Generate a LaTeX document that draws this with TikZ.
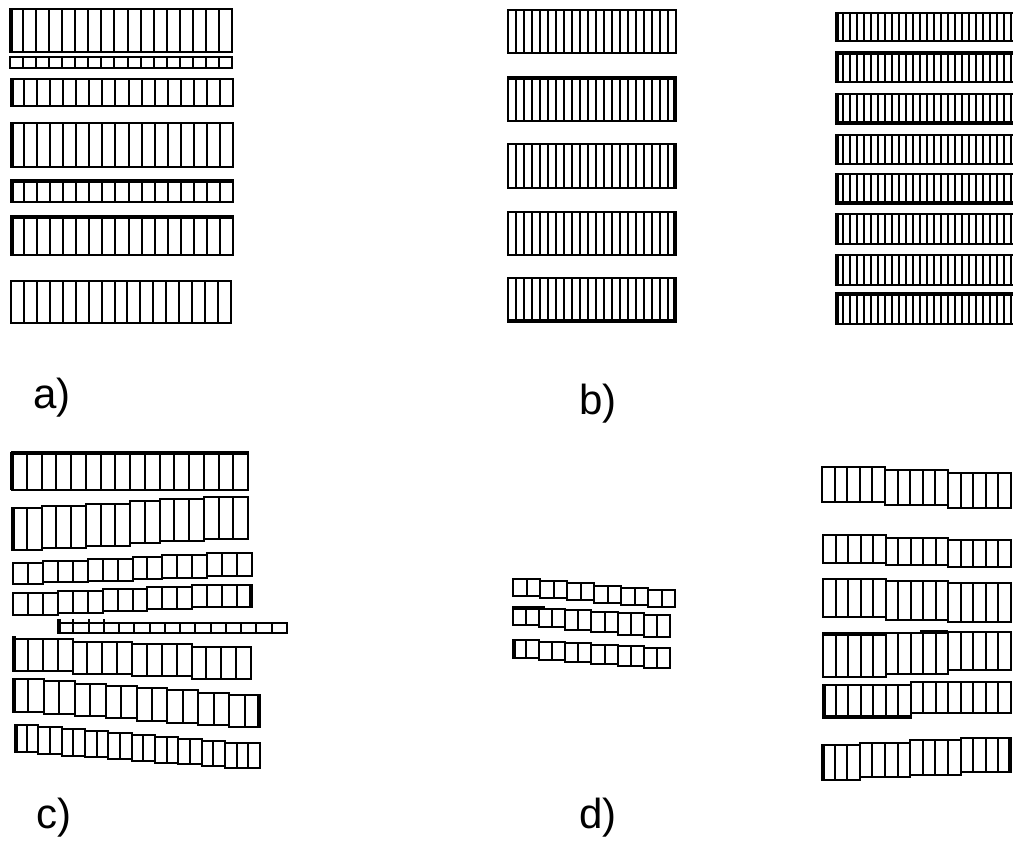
\documentclass[tikz,border=0pt]{standalone}
\usepackage{graphicx}
\usepackage{fontspec}
\setmainfont{Liberation Sans}
\tikzset{
  ln/.style={line width=2pt, line join=miter},
  thk/.style={line width=3.5pt},
  lbl/.style={font=\fontsize{42}{48}\selectfont, inner sep=0pt}
}
% \stair{x0}{x1}{cells}{segments}{ytop-left}{ybot-left}{ytop-right}{ybot-right}
\newcommand{\stair}[8]{%
  \pgfmathsetmacro\stCW{(#2-#1)/#3}%
  \pgfmathtruncatemacro\stNS{#4-1}%
  \foreach \stI in {0,...,\stNS}{%
    \pgfmathsetmacro\stT{\stI/max(#4-1,1)}%
    \pgfmathsetmacro\stXa{round(#1+floor(\stI*#3/#4+0.001)*\stCW)}%
    \pgfmathsetmacro\stXb{round(#1+floor((\stI+1)*#3/#4+0.001)*\stCW)}%
    \pgfmathsetmacro\stYa{round(#5+(#7-#5)*\stT)}%
    \pgfmathsetmacro\stYb{round(#6+(#8-#6)*\stT)}%
    \draw[ln] (\stXa,\stYa) rectangle (\stXb,\stYb);
  }%
  \pgfmathtruncatemacro\stND{#3-1}%
  \foreach \stJ in {1,...,\stND}{%
    \pgfmathsetmacro\stX{round(#1+\stJ*\stCW)}%
    \pgfmathtruncatemacro\stK{min(floor(((\stJ+1)*#4-1)/#3+0.001),#4-1)}%
    \pgfmathsetmacro\stT{\stK/max(#4-1,1)}%
    \pgfmathsetmacro\stYa{round(#5+(#7-#5)*\stT)}%
    \pgfmathsetmacro\stYb{round(#6+(#8-#6)*\stT)}%
    \draw[ln] (\stX,\stYa) -- (\stX,\stYb);
  }%
}
\begin{document}
\begin{tikzpicture}[x=1pt,y=-1pt]
\useasboundingbox (0,0) rectangle (1013,844);
\clip (0,0) rectangle (1013,844);
% ---------- a) ----------
\stair{10}{232}{17}{1}{9}{52}{9}{52}
\stair{10}{232}{17}{1}{57}{68}{57}{68}
\stair{11}{233}{17}{1}{79}{106}{79}{106}
\stair{11}{233}{17}{1}{123}{167}{123}{167}
\stair{11}{233}{17}{1}{180}{202}{180}{202}
\stair{11}{233}{17}{1}{216}{255}{216}{255}
\stair{11}{231}{17}{1}{281}{323}{281}{323}
\draw[thk] (11,9)--(11,52);
\draw[thk] (12,79)--(12,106);
\draw[thk] (12,123)--(12,167);
\draw[thk] (12,180)--(12,202) (11,181)--(233,181);
\draw[thk] (12,216)--(12,255) (11,217)--(233,217);
% ---------- b) middle ----------
\stair{508}{676}{21}{1}{10}{53}{10}{53}
\stair{508}{676}{21}{1}{77}{121}{77}{121}
\stair{508}{676}{21}{1}{144}{188}{144}{188}
\stair{508}{676}{21}{1}{212}{255}{212}{255}
\stair{508}{676}{21}{1}{278}{322}{278}{322}
\draw[thk] (675,77)--(675,121) (508,78)--(676,78);
\draw[thk] (675,144)--(675,188);
\draw[thk] (675,212)--(675,255);
\draw[thk] (675,278)--(675,322) (508,321)--(676,321);
% ---------- b) right ----------
\stair{836}{1018}{26}{1}{13}{41}{13}{41}
\stair{836}{1018}{26}{1}{52}{82}{52}{82}
\stair{836}{1018}{26}{1}{94}{124}{94}{124}
\stair{836}{1018}{26}{1}{135}{164}{135}{164}
\stair{836}{1018}{26}{1}{174}{204}{174}{204}
\stair{836}{1018}{26}{1}{214}{244}{214}{244}
\stair{836}{1018}{26}{1}{255}{285}{255}{285}
\stair{836}{1018}{26}{1}{293}{324}{293}{324}
\foreach \ya/\yb in {13/41,52/82,94/124,135/164,174/204,214/244,255/285,293/324}
  \draw[thk] (837,\ya)--(837,\yb);
\draw[thk] (836,53)--(1013,53);
\draw[thk] (836,123)--(1013,123);
\draw[thk] (836,203)--(1013,203);
\draw[thk] (836,294)--(1013,294);
% ---------- c) ----------
\stair{12}{248}{16}{1}{452}{490}{452}{490}
\draw[thk] (12,452)--(12,490) (12,453)--(248,453);
\stair{12}{248}{16}{6}{508}{550}{497}{539}
\draw[thk] (13,508)--(13,550);
\stair{13}{252}{16}{6}{563}{584}{553}{576}
\stair{13}{252}{16}{5}{593}{615}{585}{607}
\draw[thk] (251,585)--(251,607);
\stair{58}{287}{15}{1}{623}{633}{623}{633}
\draw[thk] (59,619)--(59,633);
\foreach \k in {73,89,104} \draw[ln] (\k,619)--(\k,623);
\stair{13}{251}{16}{4}{639}{671}{647}{679}
\draw[thk] (14,636)--(14,671);
\stair{13}{260}{16}{8}{679}{712}{695}{727}
\draw[thk] (14,679)--(14,712) (259,695)--(259,727);
\stair{15}{260}{21}{10}{725}{752}{743}{768}
\draw[thk] (16,725)--(16,752);
% ---------- d) middle ----------
\stair{513}{675}{12}{6}{579}{596}{590}{607}
\stair{513}{670}{12}{6}{607}{625}{615}{637}
\draw[thk] (513,608)--(545,608);
\stair{513}{670}{12}{6}{640}{658}{648}{668}
\draw[thk] (514,640)--(514,658);
% ---------- d) right ----------
\stair{822}{1011}{15}{3}{467}{502}{473}{508}
\stair{823}{1011}{15}{3}{535}{563}{540}{567}
\stair{823}{1011}{15}{3}{579}{617}{583}{622}
\stair{823}{1011}{15}{3}{633}{677}{632}{670}
\draw[thk] (823,634)--(886,634) (920,632)--(948,632);
\stair{823}{1011}{15}{2}{685}{718}{682}{713}
\draw[thk] (824,685)--(824,718) (823,717)--(910,717);
\stair{822}{1011}{15}{4}{745}{780}{738}{772}
\draw[thk] (823,745)--(823,780) (1010,738)--(1010,772);
% ---------- labels ----------
\node[lbl] (la) at (52,398) {a)};
\node[lbl] (lb) at (598,404) {b)};
\node[lbl] (lc) at (54,818) {c)};
\node[lbl] (ld) at (598,818) {d)};
\end{tikzpicture}
\end{document}
